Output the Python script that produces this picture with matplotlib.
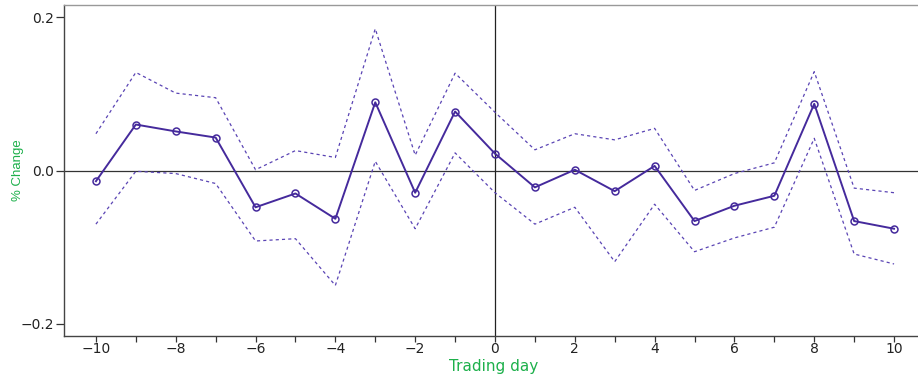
import matplotlib
matplotlib.use("Agg")
import matplotlib.pyplot as plt

plt.rcParams['font.family'] = ['DejaVu Sans']

# trading days relative to event
days = list(range(-10, 11))

# mean % change
mean_chg = [-0.014, 0.060, 0.051, 0.043, -0.048, -0.030, -0.063, 0.089, -0.029, 0.077,
            0.022, -0.022, 0.001, -0.027, 0.006, -0.066, -0.046, -0.033, 0.087, -0.066, -0.076]

# upper / lower bands
upper = [0.048, 0.128, 0.101, 0.095, 0.001, 0.026, 0.017, 0.185, 0.020, 0.127,
         0.076, 0.027, 0.048, 0.040, 0.055, -0.026, -0.004, 0.010, 0.129, -0.023, -0.029]
lower = [-0.070, -0.001, -0.004, -0.017, -0.092, -0.089, -0.150, 0.012, -0.076, 0.023,
         -0.029, -0.070, -0.048, -0.119, -0.044, -0.106, -0.088, -0.074, 0.042, -0.109, -0.122]

xtick_vals = list(range(-10, 11, 2))
ytick_vals = [-0.2, 0.0, 0.2]
ytick_labels = ['\u22120.2', '0.0', '0.2']

line_col = '#452a9c'
band_col = '#5a44b4'
green = '#1db04b'

fig = plt.figure(figsize=(9.18, 3.78), dpi=100)
ax = fig.add_axes([64 / 918, 42 / 378, 1 - 64 / 918, 331 / 378])

ax.axhline(0, color='#333333', lw=0.9, zorder=1)
ax.axvline(0, color='#222222', lw=0.9, zorder=1)

ax.plot(days, upper, color=band_col, lw=0.9, ls=(0, (2.5, 2.5)))
ax.plot(days, lower, color=band_col, lw=0.9, ls=(0, (2.5, 2.5)))
ax.plot(days, mean_chg, color=line_col, lw=1.4, marker='o', ms=5,
        mfc='none', mec=line_col, mew=1.1)

ax.set_xlim(-10.8, 10.6)
ax.set_ylim(-0.216, 0.216)
ax.set_xticks(xtick_vals)
ax.set_xticks(days, minor=True)
ax.set_xticklabels([('\u2212%d' % -d) if d < 0 else str(d) for d in xtick_vals])
ax.set_yticks(ytick_vals)
ax.set_yticklabels(ytick_labels)

ax.tick_params(axis='both', which='both', direction='out', width=0.9,
               color='#333333', labelsize=10, labelcolor='#222222')
ax.tick_params(axis='x', which='both', length=4, pad=0.5)
ax.tick_params(axis='y', length=6, pad=1)

for s in ['left', 'bottom']:
    ax.spines[s].set_color('#444444')
    ax.spines[s].set_linewidth(1.0)
ax.spines['top'].set_color('#999999')
ax.spines['top'].set_linewidth(1.0)
ax.spines['right'].set_visible(False)

ax.set_xlabel('Trading day', color=green, fontsize=11)
ax.xaxis.set_label_coords(0.5035, -0.068)
ax.set_ylabel('% Change', color=green, fontsize=9.5,
              family=['Liberation Sans', 'DejaVu Sans'])
ax.yaxis.set_label_coords(-0.047, 0.5)

fig.savefig('out.png', dpi=100)
